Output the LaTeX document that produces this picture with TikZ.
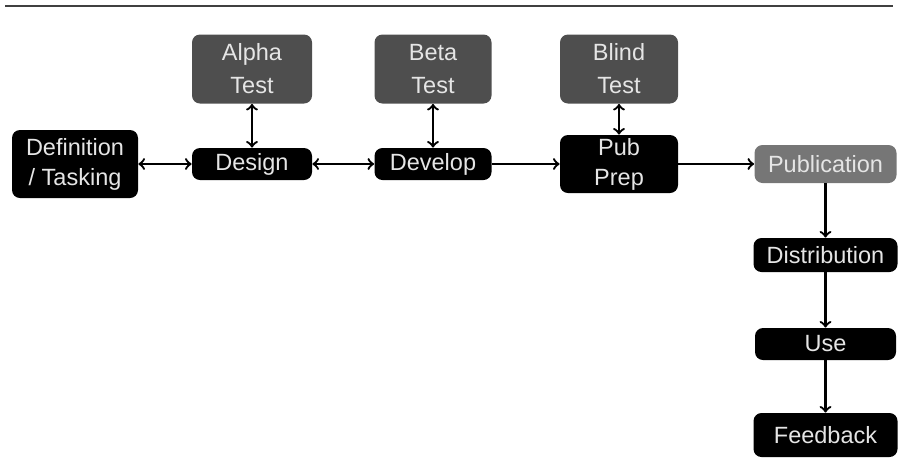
\documentclass[tikz,border=0pt]{standalone}
\usepackage{fontspec}
\setmainfont{Liberation Sans}
\usetikzlibrary{arrows}

\definecolor{testgray}{HTML}{4E4E4E}
\definecolor{pubgray}{HTML}{767676}
\tikzset{
  box/.style={rounded corners=4pt, text=white!90!black, align=center, inner sep=0pt,
    font=\fontsize{11.75}{15}\selectfont},
  link/.style={line width=1.15pt}
}

\begin{document}
\begin{tikzpicture}[x=0.5pt, y=-0.5pt]
    \useasboundingbox (0,0) rectangle (898,472);
    \draw[line width=1pt, black!75] (5,6) -- (893,6);

    \node[box, fill=testgray, minimum width=60pt, minimum height=34.5pt] (alpha) at (252,69) {Alpha\\[1.5pt]Test};
    \node[box, fill=testgray, minimum width=58.5pt, minimum height=34.5pt] (beta) at (433,69) {Beta\\[1.5pt]Test};
    \node[box, fill=testgray, minimum width=59pt, minimum height=34.5pt] (blind) at (619,69) {Blind\\[1.5pt]Test};

    \node[box, fill=black, minimum width=63pt, minimum height=34pt] (def) at (75,164) {Definition\\/ Tasking};
    \node[box, fill=black, minimum width=60pt, minimum height=16pt] (design) at (252,164) {Design};
    \node[box, fill=black, minimum width=58.5pt, minimum height=16pt] (develop) at (433,164) {Develop};
    \node[box, fill=black, minimum width=59pt, minimum height=29pt] (pubprep) at (619,164) {Pub\\Prep};
    \node[box, fill=pubgray, minimum width=71pt, minimum height=19pt] (publication) at (825.5,164) {Publication};

    \node[box, fill=black, minimum width=72pt, minimum height=17pt] (distribution) at (825.5,255) {Distribution};
    \node[box, fill=black, minimum width=70.5pt, minimum height=16pt] (use) at (825.5,344) {Use};
    \node[box, fill=black, minimum width=72pt, minimum height=22pt] (feedback) at (825.5,435) {Feedback};

    \draw[link, <->] (def) -- (design);
    \draw[link, <->] (design) -- (develop);
    \draw[link, ->] (develop) -- (pubprep);
    \draw[link, ->] (pubprep) -- (publication);

    \draw[link, <->] (alpha) -- (design);
    \draw[link, <->] (beta) -- (develop);
    \draw[link, <->] (blind) -- (pubprep);

    \draw[link, ->] (publication) -- (distribution);
    \draw[link, ->] (distribution) -- (use);
    \draw[link, ->] (use) -- (feedback);
\end{tikzpicture}
\end{document}
